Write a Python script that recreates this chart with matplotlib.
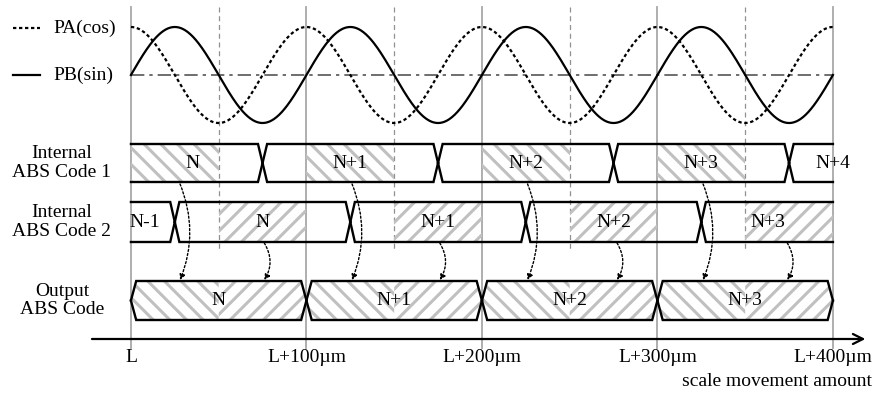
import numpy as np
import matplotlib.pyplot as plt
from matplotlib.patches import Polygon, FancyArrowPatch

plt.rcParams['font.family'] = ['Liberation Serif', 'DejaVu Serif']
plt.rcParams['hatch.linewidth'] = 2.2

# scale positions (um from L)
grid_um = [0, 100, 200, 300, 400]
tick_labels = ['L', 'L+100µm', 'L+200µm', 'L+300µm', 'L+400µm']
half_um = [50, 150, 250, 350]
period_um = 100

# internal ABS code 1
code1_edges = [0, 75, 175, 275, 375, 400]
code1_labels = ['N', 'N+1', 'N+2', 'N+3', 'N+4']
code1_label_x = [35, 125, 225, 325, 400]
code1_hatch = [(0, 50), (100, 150), (200, 250), (300, 350)]

# internal ABS code 2
code2_edges = [0, 25, 125, 225, 325, 400]
code2_labels = ['N-1', 'N', 'N+1', 'N+2', 'N+3']
code2_label_x = [8, 75, 175, 275, 363]
code2_hatch = [(50, 100), (150, 200), (250, 300), (350, 400)]

# output ABS code
out_edges = [0, 100, 200, 300, 400]
out_labels = ['N', 'N+1', 'N+2', 'N+3']

# dotted arrows code -> output
arrow1_x = [28, 126, 226, 326]
arrow2_x = [76, 176, 277, 374]

row_labels = ['Internal\nABS Code 1', 'Internal\nABS Code 2', 'Output\nABS Code']

# layout (vertical in pixels, top = 0)
WAVE_MID, WAVE_AMP = 75, 48
ROW1 = (144, 182)
ROW2 = (202, 242)
ROW_OUT = (281, 320)
AXIS_Y = 339
FS = 14
HATCH_C = '#c0c0c0'

fig = plt.figure(figsize=(8.74, 3.94), dpi=100)
ax = fig.add_axes([0, 0, 1, 1])
ax.set_xlim(-74.6, 423.4)
ax.set_ylim(394, 0)
ax.axis('off')

# reference grid lines
for g in grid_um:
    ax.plot([g, g], [7, 348], color='#a8a8a8', lw=1.3, zorder=1)
for h in half_um:
    ax.plot([h, h], [7, 252], color='#909090', lw=0.9, ls=(0, (4, 3)), zorder=1)

# signals
x = np.linspace(0, grid_um[-1], 801)
ax.plot([0, 400], [WAVE_MID, WAVE_MID], color='#555555', lw=1.2, ls=(0, (8, 3, 2, 3)), zorder=2)
ax.plot(x, WAVE_MID - WAVE_AMP * np.cos(2 * np.pi * x / period_um), color='k', lw=1.6,
        ls=(0, (1.5, 1.2)), zorder=3)
ax.plot(x, WAVE_MID - WAVE_AMP * np.sin(2 * np.pi * x / period_um), color='k', lw=1.6, zorder=3)

# legend
ax.plot([-67.2, -51.8], [28, 28], color='k', lw=1.6, ls=(0, (1.5, 1.2)))
ax.plot([-67.2, -51.8], [75, 75], color='k', lw=1.6)
ax.text(-44.4, 28, 'PA(cos)', fontsize=FS, va='center', ha='left')
ax.text(-44.4, 75, 'PB(sin)', fontsize=FS, va='center', ha='left')


def draw_bus(edges, row, w, pointed_ends):
    top, bot = row
    mid = (top + bot) / 2
    for i in range(len(edges) - 1):
        a, b = edges[i], edges[i + 1]
        pl = pointed_ends or i > 0
        pr = pointed_ends or i < len(edges) - 2
        for yy in (top, bot):
            xs, ys = [], []
            if pl:
                xs += [a, a + w]
                ys += [mid, yy]
            else:
                xs += [a]
                ys += [yy]
            if pr:
                xs += [b - w, b]
                ys += [yy, mid]
            else:
                xs += [b]
                ys += [yy]
            ax.plot(xs, ys, color='k', lw=1.7, zorder=5, solid_joinstyle='miter')


def hatch_rect(a, b, row, pattern):
    top, bot = row
    ax.add_patch(Polygon([(a, top), (b, top), (b, bot), (a, bot)], closed=True,
                         facecolor='none', edgecolor=HATCH_C, lw=0, hatch=pattern, zorder=2))


# internal code 1
for a, b in code1_hatch:
    hatch_rect(a, b, ROW1, '\\\\')
draw_bus(code1_edges, ROW1, 2.6, False)
for lab, lx in zip(code1_labels, code1_label_x):
    ax.text(lx, sum(ROW1) / 2, lab, fontsize=FS, ha='center', va='center', zorder=6)

# internal code 2
for a, b in code2_hatch:
    hatch_rect(a, b, ROW2, '//')
draw_bus(code2_edges, ROW2, 2.6, False)
for lab, lx in zip(code2_labels, code2_label_x):
    ax.text(lx, sum(ROW2) / 2, lab, fontsize=FS, ha='center', va='center', zorder=6)

# output code
wo = 3.0
top, bot = ROW_OUT
mid = (top + bot) / 2
for i, lab in enumerate(out_labels):
    a, b = out_edges[i], out_edges[i + 1]
    c = (a + b) / 2
    ax.add_patch(Polygon([(a, mid), (a + wo, top), (c, top), (c, bot), (a + wo, bot)], closed=True,
                         facecolor='none', edgecolor=HATCH_C, lw=0, hatch='\\\\', zorder=2))
    ax.add_patch(Polygon([(c, top), (b - wo, top), (b, mid), (b - wo, bot), (c, bot)], closed=True,
                         facecolor='none', edgecolor=HATCH_C, lw=0, hatch='//', zorder=2))
    ax.text(c, mid, lab, fontsize=FS, ha='center', va='center', zorder=6)
draw_bus(out_edges, ROW_OUT, wo, True)

# transfer arrows
for ax_list, y0, rad in ((arrow1_x, ROW1[1] + 2, -0.2), (arrow2_x, ROW2[1] + 1, -0.3)):
    for xa in ax_list:
        ax.add_patch(FancyArrowPatch((xa, y0), (xa, ROW_OUT[0] - 1),
                                     connectionstyle=f'arc3,rad={rad}', arrowstyle='-|>',
                                     mutation_scale=8, lw=1.0, ls=(0, (1.5, 1.5)), color='k',
                                     shrinkA=0, shrinkB=0, zorder=7))

# row labels
for lab, row in zip(row_labels, (ROW1, ROW2, ROW_OUT)):
    ax.text(-39.3, sum(row) / 2, lab, fontsize=FS, ha='center', va='center', linespacing=1.1)

# movement axis
ax.annotate('', xy=(418.5, AXIS_Y), xytext=(-22.2, AXIS_Y),
            arrowprops=dict(arrowstyle='->', lw=1.6, color='k', mutation_scale=18,
                            shrinkA=0, shrinkB=0))
for g, lab in zip(grid_um, tick_labels):
    ax.text(g, 358, lab, fontsize=FS, ha='center', va='center')
ax.text(422.2, 381, 'scale movement amount', fontsize=FS, ha='right', va='center')

fig.savefig('out.png', dpi=100)
